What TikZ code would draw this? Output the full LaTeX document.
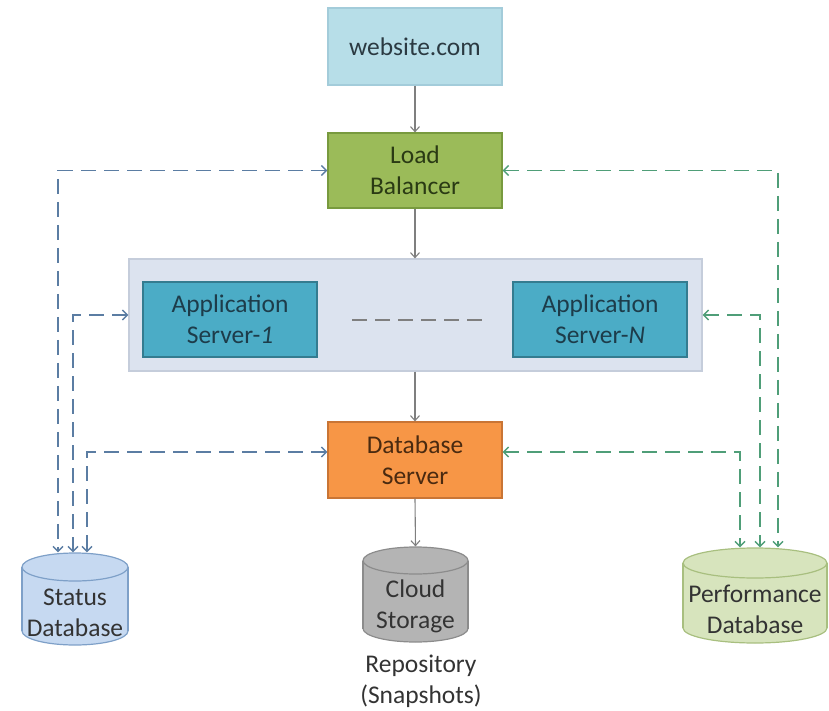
\documentclass[tikz,border=0pt]{standalone}
\usepackage{fontspec}
\setmainfont{Carlito}
\usetikzlibrary{arrows.meta,shapes.geometric}
\definecolor{webfill}{HTML}{B7DEE8}
\definecolor{webdraw}{HTML}{A3CCDA}
\definecolor{webtext}{HTML}{2B3A42}
\definecolor{lbfill}{HTML}{9BBB59}
\definecolor{lbdraw}{HTML}{789A3E}
\definecolor{lbtext}{HTML}{2A3A14}
\definecolor{panelfill}{HTML}{DCE3EF}
\definecolor{paneldraw}{HTML}{C5CDDB}
\definecolor{appfill}{HTML}{4BACC6}
\definecolor{appdraw}{HTML}{347C90}
\definecolor{apptext}{HTML}{1D3C4A}
\definecolor{dbsfill}{HTML}{F79646}
\definecolor{dbsdraw}{HTML}{C97535}
\definecolor{dbstext}{HTML}{4A2A10}
\definecolor{cldfill}{HTML}{B4B4B4}
\definecolor{clddraw}{HTML}{8C8C8C}
\definecolor{sdbfill}{HTML}{C6D9F1}
\definecolor{sdbdraw}{HTML}{7EA0C8}
\definecolor{pdbfill}{HTML}{D7E4BD}
\definecolor{pdbdraw}{HTML}{A8BF7F}
\definecolor{txt}{HTML}{333333}
\definecolor{flowgray}{HTML}{7F7F7F}
\definecolor{dblue}{HTML}{5B7DA3}
\definecolor{dgreen}{HTML}{4F9E78}
\newcommand\drawcyl[8]{% #1 name, #2 cx, #3 ytop, #4 ybot, #5 width, #6 ellipse height, #7 fill, #8 draw
  \node[ellipse, fill=#7, draw=#8, line width=1.2pt, minimum width=#5pt, minimum height=#6pt, inner sep=0pt] (#1bot) at (#2,#4) {};
  \fill[#7] (#2-#5/2,#3) rectangle (#2+#5/2,#4);
  \draw[#8, line width=1.2pt] (#2-#5/2,#3) -- (#2-#5/2,#4) (#2+#5/2,#3) -- (#2+#5/2,#4);
  \node[ellipse, fill=#7, draw=#8, line width=1.2pt, minimum width=#5pt, minimum height=#6pt, inner sep=0pt] (#1top) at (#2,#3) {};
}
\begin{document}
\begin{tikzpicture}[x=1pt,y=-1pt,
  font=\fontsize{25.5}{31}\selectfont,
  box/.style={rectangle, minimum width=174pt, inner sep=0pt, align=center, line width=1.2pt},
  flow/.style={draw=flowgray, line width=1.1pt, -{Straight Barb[length=5pt,width=9pt]}},
  bdash/.style={draw=dblue, line width=1.4pt, dash pattern=on 15pt off 8pt,
    {Straight Barb[length=5pt,width=10pt]}-{Straight Barb[length=5pt,width=10pt]}},
  gdash/.style={draw=dgreen, line width=1.4pt, dash pattern=on 15pt off 8pt,
    {Straight Barb[length=5pt,width=10pt]}-{Straight Barb[length=5pt,width=10pt]}},
  cyltext/.style={align=center, text=txt, inner sep=0pt}]
\useasboundingbox (0,0) rectangle (829,711);

% boxes
\node[box, minimum height=77pt, fill=webfill, draw=webdraw, text=webtext] (web) at (415,46.5) {website.com};
\node[box, minimum height=75pt, fill=lbfill, draw=lbdraw, text=lbtext] (lb) at (415,170.5) {Load\\Balancer};
\node[box, minimum width=573pt, minimum height=112pt, fill=panelfill, draw=paneldraw] (panel) at (415.5,315) {};
\node[box, minimum height=75pt, fill=appfill, draw=appdraw, text=apptext] (app1) at (230,319.5) {Application\\Server-\textit{1}};
\node[box, minimum height=75pt, fill=appfill, draw=appdraw, text=apptext] (appN) at (600,319.5) {Application\\Server-\textit{N}};
\node[box, minimum height=76pt, fill=dbsfill, draw=dbsdraw, text=dbstext] (dbs) at (415,460) {Database\\Server};

\coordinate (dotsA) at (352,320);
\coordinate (dotsB) at (486,320);
\draw[flowgray, line width=1.5pt, dash pattern=on 15pt off 8pt] (dotsA) -- (dotsB);

% cylinders
\drawcyl{sdb}{75}{567}{631}{106}{28}{sdbfill}{sdbdraw}
\drawcyl{cld}{415.5}{560.5}{628.5}{105}{27}{cldfill}{clddraw}
\drawcyl{pdb}{755}{563}{628}{144}{30}{pdbfill}{pdbdraw}
\node[cyltext] (sdb) at (75,613) {Status\\Database};
\node[cyltext] (cld) at (415.5,606) {Cloud\\Storage};
\node[cyltext] (pdb) at (755,609) {Performance\\Database};
\node[cyltext] (repo) at (421,681) {Repository\\(Snapshots)};

% main flow
\draw[flow] (web.south) -- (lb.north);
\draw[flow] (lb.south) -- (lb.south |- panel.north);
\draw[flow] (dbs.north |- panel.south) -- (dbs.north);
\draw[flow] (dbs.south) -- (cldtop.north);

% status connectors
\draw[bdash] (lb.west) -| ([xshift=-17pt]sdbtop.north);
\draw[bdash] (panel.west) -| ([xshift=-2pt]sdbtop.north);
\draw[bdash] ([yshift=8pt]dbs.west) -| ([xshift=12pt]sdbtop.north);

% performance connectors
\draw[gdash] (lb.east) -| ([xshift=23pt]pdbtop.north);
\draw[gdash] (panel.east) -| ([xshift=5pt]pdbtop.north);
\draw[gdash] ([yshift=8pt]dbs.east) -| ([xshift=-15pt]pdbtop.north);
\end{tikzpicture}
\end{document}
